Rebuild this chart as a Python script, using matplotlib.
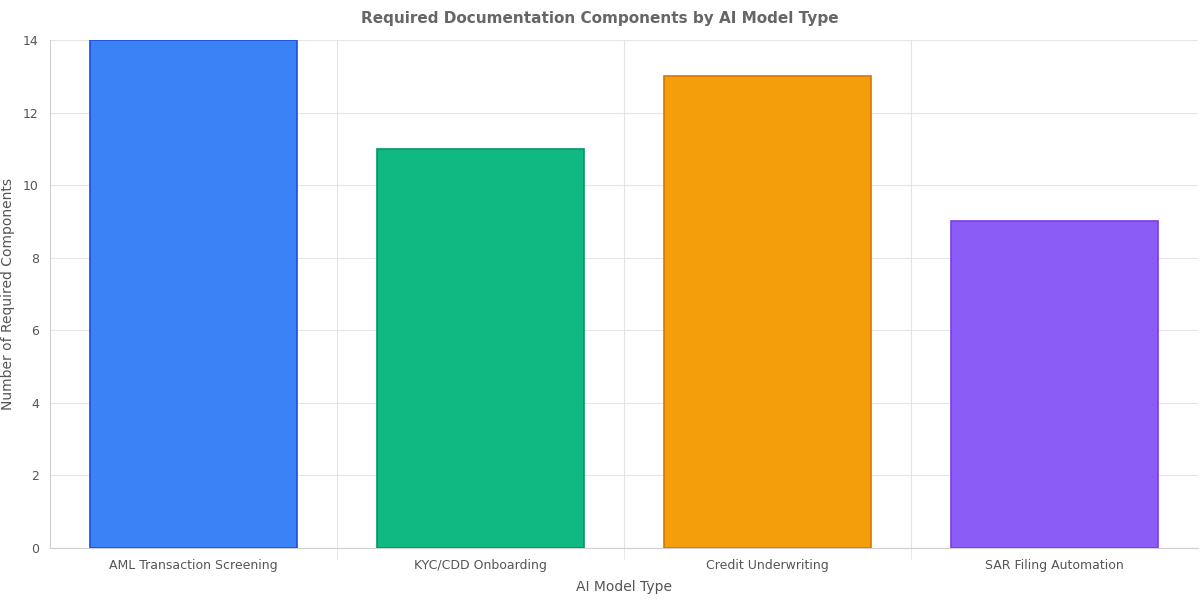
import matplotlib
matplotlib.use("Agg")
import matplotlib.pyplot as plt
import numpy as np

categories = ["AML Transaction Screening", "KYC/CDD Onboarding", "Credit Underwriting", "SAR Filing Automation"]
values = [14, 11, 13, 9]
fill_colors = ["#3b82f6", "#10b981", "#f59e0b", "#8b5cf6"]
edge_colors = ["#1d4ed8", "#059669", "#d97706", "#7c3aed"]

fig = plt.figure(figsize=(12, 6), dpi=100)
ax = fig.add_axes([50/1200, 1-548/600, 1148/1200, 508/600])
x = np.arange(len(categories))
ax.bar(x, values, width=0.72, color=fill_colors, edgecolor=edge_colors, linewidth=1.2, zorder=3)
ax.set_xlim(-0.5, len(categories)-0.5)
ax.set_ylim(0, 14)
ax.set_yticks(np.arange(0, 15, 2))
ax.set_xticks(x)
ax.set_xticklabels(categories)
ax.set_xticks(np.arange(0.5, len(categories)-0.5, 1), minor=True)
ax.grid(True, axis="y", color="#e5e5e5", linewidth=0.8, zorder=0)
ax.grid(True, axis="x", which="minor", color="#e5e5e5", linewidth=0.8, zorder=0)
ax.tick_params(axis="both", which="both", length=0, colors="#555555", labelsize=9, pad=8)
ax.tick_params(axis="x", which="minor", length=8, color="#e5e5e5")
for s in ["top", "right"]:
    ax.spines[s].set_visible(False)
for s in ["left", "bottom"]:
    ax.spines[s].set_color("#d0d0d0")
ax.set_xlabel("AI Model Type", fontsize=10, color="#555555", labelpad=6)
ax.set_ylabel("Number of Required Components", fontsize=10, color="#555555", labelpad=6)
fig.text(0.5, 1-19/600, "Required Documentation Components by AI Model Type", ha="center", va="center",
         fontsize=11, fontweight="bold", color="#666666")
fig.savefig("out.png", dpi=100)
